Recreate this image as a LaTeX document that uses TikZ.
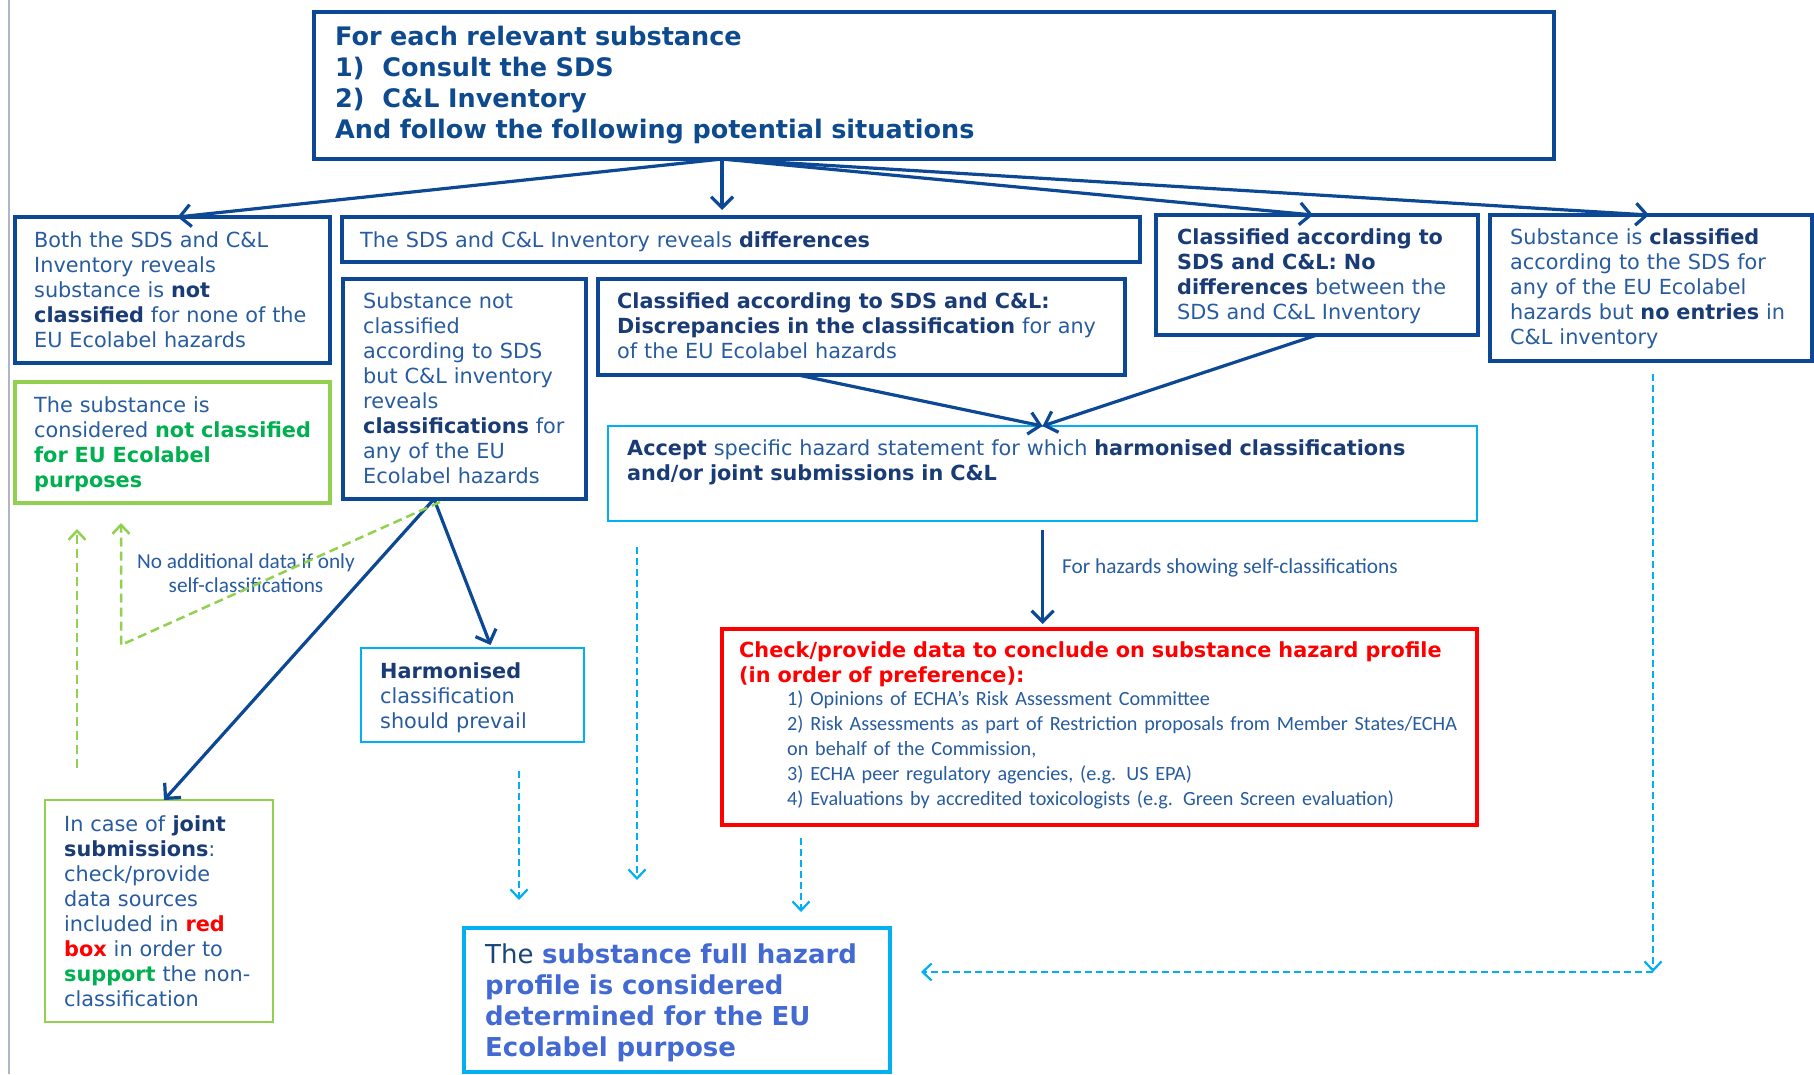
\documentclass[tikz,border=0pt]{standalone}
\usepackage{fontspec}
\setmainfont{DejaVu Sans}
\newfontfamily\carl{Carlito}
\usetikzlibrary{arrows.meta,calc}

\definecolor{navy}{RGB}{12,72,148}
\definecolor{bodyblue}{RGB}{40,92,160}
\definecolor{boldblue}{RGB}{26,60,118}
\definecolor{topblue}{RGB}{14,74,142}
\definecolor{sky}{RGB}{0,176,240}
\definecolor{lgreen}{RGB}{146,208,80}
\definecolor{dgreen}{RGB}{0,176,80}
\definecolor{alarm}{RGB}{255,0,0}
\definecolor{royal}{RGB}{66,106,210}
\definecolor{thenavy}{RGB}{24,70,118}
\definecolor{margin}{RGB}{176,180,200}

\newcommand\fBody{\fontsize{20.8pt}{25pt}\selectfont}
\newcommand\fTop{\fontsize{25.5pt}{31pt}\selectfont}
\newcommand\fFinal{\fontsize{26pt}{31pt}\selectfont}
\newcommand\fNote{\carl\fontsize{21.3pt}{24pt}\selectfont}
\newcommand\fItem{\carl\fontsize{20.2pt}{25pt}\selectfont}
\newcommand\hb[1]{\textbf{\color{boldblue}#1}}
\newcommand\gb[1]{\textbf{\color{dgreen}#1}}
\newcommand\rb[1]{\textbf{\color{alarm}#1}}

\begin{document}
\begin{tikzpicture}[x=1pt,y=-1pt,
  frame/.style={anchor=north west,inner sep=0pt,outer sep=0pt},
  navybox/.style={frame,draw=navy,line width=3.8pt},
  skybox/.style={frame,draw=sky,line width=1.8pt},
  skythick/.style={frame,draw=sky,line width=4pt},
  greenbox/.style={frame,draw=lgreen,line width=4pt},
  greenthin/.style={frame,draw=lgreen,line width=1.6pt},
  redbox/.style={frame,draw=alarm,line width=4.5pt},
  txt/.style={anchor=base west,inner sep=0pt,align=left,text width=900pt,text=bodyblue,font=\fBody},
  darr/.style={draw=navy,line width=3.2pt,-{Straight Barb[length=11pt,width=22pt]}},
  skyarr/.style={draw=sky,line width=2.2pt,dash pattern=on 7pt off 4pt,-{Straight Barb[length=9pt,width=17pt]}},
  grarr/.style={draw=lgreen,line width=2.5pt,dash pattern=on 9pt off 5pt,-{Straight Barb[length=9pt,width=17pt]}},
]
\fill[white] (0,0) rectangle (1814,1074);
\useasboundingbox (0,0) rectangle (1814,1074);

% page margin rule
\draw[margin,line width=1.5pt] (9,0) -- (9,1074);

% ---------- boxes ----------
\node[navybox,minimum width=1240pt,minimum height=147pt] (top) at (314,12) {};
\node[navybox,minimum width=315pt,minimum height=146pt] (A) at (15,217) {};
\node[greenbox,minimum width=315pt,minimum height=121pt] (G) at (15,382) {};
\node[navybox,minimum width=798pt,minimum height=45pt] (diff) at (342,217) {};
\node[navybox,minimum width=243pt,minimum height=220pt] (B1) at (343,279) {};
\node[navybox,minimum width=527pt,minimum height=96pt] (B2) at (598,279) {};
\node[navybox,minimum width=322pt,minimum height=120pt] (C) at (1156,215) {};
\node[navybox,minimum width=322pt,minimum height=146pt] (D) at (1490,215) {};
\node[skybox,minimum width=869pt,minimum height=95pt] (acc) at (608,426) {};
\node[skybox,minimum width=223pt,minimum height=94pt] (H) at (361,648) {};
\node[redbox,minimum width=755pt,minimum height=196pt] (R) at (722,629) {};
\node[greenthin,minimum width=228pt,minimum height=222pt] (J) at (45,800) {};
\node[skythick,minimum width=426pt,minimum height=144pt] (F) at (464,928) {};

% ---------- texts ----------
\node[txt,font=\fTop\bfseries,text=topblue] at (335,45)
  {For each relevant substance\\1)\hspace{0.7em}Consult the SDS\\2)\hspace{0.7em}C\&L Inventory\\And follow the following potential situations};

\node[txt] at (34,247)
  {Both the SDS and C\&L\\Inventory reveals\\substance is \hb{not}\\\hb{classified} for none of the\\EU Ecolabel hazards};

\node[txt] at (34,412)
  {The substance is\\considered \gb{not classified}\\\gb{for EU Ecolabel}\\\gb{purposes}};

\node[txt] at (360,247)
  {The SDS and C\&L Inventory reveals \hb{differences}};

\node[txt] at (363,308)
  {Substance not\\classified\\according to SDS\\but C\&L inventory\\reveals\\\hb{classifications} for\\any of the EU\\Ecolabel hazards};

\node[txt] at (617,308)
  {\hb{Classified according to SDS and C\&L:}\\\hb{Discrepancies in the classification} for any\\of the EU Ecolabel hazards};

\node[txt] at (1177,244)
  {\hb{Classified according to}\\\hb{SDS and C\&L: No}\\\hb{differences} between the\\SDS and C\&L Inventory};

\node[txt] at (1510,244)
  {Substance is \hb{classified}\\according to the SDS for\\any of the EU Ecolabel\\hazards but \hb{no entries} in\\C\&L inventory};

\node[txt] at (627,455)
  {\hb{Accept} specific hazard statement for which \hb{harmonised classifications}\\\hb{and/or joint submissions in C\&L}};

\node[txt] at (380,678)
  {\hb{Harmonised}\\classification\\should prevail};

\node[txt,font=\fBody\bfseries,text=alarm] at (739,657)
  {Check/provide data to conclude on substance hazard profile\\(in order of preference):};
\node[txt,font=\fItem] at (787,705)
  {1) Opinions of ECHA’s Risk Assessment Committee\\
   2) Risk Assessments as part of Restriction proposals from Member States/ECHA\\
   on behalf of the Commission,\\
   3) ECHA peer regulatory agencies, (e.g. US EPA)\\
   4) Evaluations by accredited toxicologists (e.g. Green Screen evaluation)};

\node[txt] at (64,831)
  {In case of \hb{joint}\\\hb{submissions}:\\check/provide\\data sources\\included in \rb{red}\\\rb{box} in order to\\\gb{support} the non-\\classification};

\node[txt,font=\fFinal\bfseries,text=royal] at (485,963)
  {{\color{thenavy}\mdseries The} substance full hazard\\profile is considered\\determined for the EU\\Ecolabel purpose};

\node[anchor=base west,inner sep=0pt,font=\fNote,text=bodyblue] (noteA) at (1062,573)
  {For hazards showing self-classifications};
\node[anchor=base,inner sep=0pt,font=\fNote,text=bodyblue,align=center] (noteB) at (246,592)
  {No additional data if only\\self-classifications};

% ---------- connector end points ----------
\coordinate (src) at (722,159);
\coordinate (b1s) at (434,499);
\coordinate (b2s) at (798,375);
\coordinate (gbend) at (121,645);
\coordinate (gup) at (77,768);
\coordinate (hdash) at (519,771);
\coordinate (adash) at (637,547);
\coordinate (rdash) at (801,838);
\coordinate (corner) at (1653,972);

% ---------- solid connectors ----------
\draw[darr] (src) -- ($(A.north)+(5,0)$);
\draw[darr,shorten >=7pt] (src) -- (src |- diff.north);
\draw[darr] (src) -- ($(C.north)+(-4,0)$);
\draw[darr] (src) -- ($(D.north)+(-2,0)$);
\draw[darr] (b2s) -- (acc.north);
\draw[darr] (C.south) -- (acc.north);
\draw[darr,shorten <=9pt,shorten >=5pt] (acc.south) -- (acc.south |- R.north);
\draw[darr] (b1s) -- ($(H.north)+(18,-3)$);
\draw[darr] (b1s) -- ($(J.north)+(5,0)$);

% ---------- dashed connectors ----------
\draw[grarr] ($(b1s)+(6,3)$) -- (gbend) -- ($(gbend |- G.south)+(0,20)$);
\draw[grarr] (gup) -- ($(gup |- G.south)+(0,26)$);
\draw[skyarr] (hdash) -- (hdash |- 0,900);
\draw[skyarr] (adash) -- (adash |- 0,880);
\draw[skyarr] (rdash) -- (rdash |- 0,912);
\draw[skyarr,shorten <=13pt] ($(D.south)+(2,0)$) -- (corner);
\draw[skyarr] (corner) -- ($(F.east |- corner)+(31,0)$);
\end{tikzpicture}
\end{document}
